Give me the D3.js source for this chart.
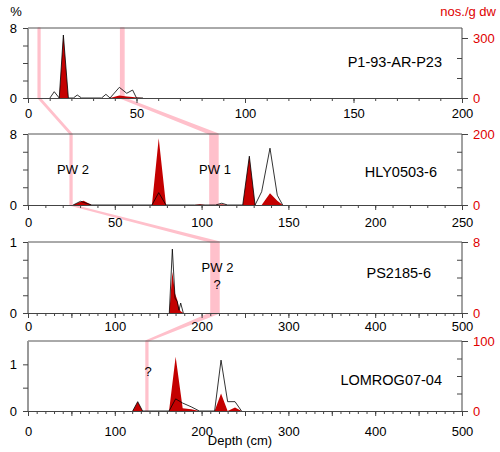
<!DOCTYPE html>
<html>
<head>
<meta charset="UTF-8">
<script src="https://d3js.org/d3.v7.min.js"></script>
<style>
  body { margin: 0; background: #fff; }
  svg text { font-family: "Liberation Sans", Arial, sans-serif; }
  .axis text { font-size: 13px; fill: #000; }
  .axis line { stroke: #444; }
</style>
</head>
<body>
<svg id="chart" width="500" height="452"></svg>
<script>
// cores, top to bottom
const cores = ["P1-93-AR-P23", "HLY0503-6", "PS2185-6", "LOMROG07-04"];

// depth (cm), abundance (%) and concentration (nos./g dw) per core
const depthP1 = [10.1, 12.1, 14.4, 16.3, 18.6, 20.9, 22.7, 24.7, 33.9, 35.9, 37.8, 42.1, 45.5, 48.2, 50, 53];
const pctP1   = [0, 0.72, 0, 7.2, 0, 0, 0.34, 0, 0, 0.42, 0, 1.22, 0.54, 0.91, 0, 0];
const nosP1   = [0, 0, 0, 315, 0, 0, 0, 0, 0, 0, 0, 13, 8, 5, 2, 0];

const depthHLY = [26, 30.3, 32, 36.7, 71.4, 75.3, 79.5, 96, 99, 102, 108, 111.6, 115, 123.7, 127.5, 130.8, 134.6, 139.4, 143.6, 146.7];
const pctHLY   = [0, 0.42, 0.3, 0, 0, 1.39, 0, 0, 0, 0, 0, 0.2, 0, 0, 5.5, 0, 1.5, 6.4, 1.1, 0];
const nosHLY   = [0, 9, 12, 0, 0, 188, 0, 0, 2, 0, 0, 2, 0, 0, 138, 0, 0, 33, 12, 0];

const depthPS = [162.8, 166.3, 169.4, 172, 174, 175.9, 178.9];
const pctPS   = [0, 0.9, 0.21, 0.16, 0.04, 0.14, 0];
const nosPS   = [0, 4.65, 2.2, 1.46, 0.5, 0.2, 0];

const depthLOM = [120.6, 126.4, 132, 162.5, 170.1, 178.2, 188, 197.4, 215, 222.4, 230, 238.5, 246];
const pctLOM   = [0, 0.2, 0, 0, 0.26, 0.17, 0.09, 0, 0, 1.09, 0.2, 0.2, 0];
const nosLOM   = [0, 13.3, 0, 0, 77.6, 4, 2.5, 0, 0, 25, 0, 5, 0];

// axis extents and ticks
const depthMax = [200, 250, 500, 500];
const depthLabelStep = [50, 50, 100, 100];
const pctMax = [8, 8, 1, 1.5];
const pctTicks = [[0, 2, 4, 6, 8], [0, 2, 4, 6, 8], [0, 0.25, 0.5, 0.75, 1], [0, 0.5, 1]];
const pctLabels = [[0, 8], [0, 8], [0, 1], [0, 1]];
const nosMax = [350, 200, 8, 100];
const nosTicks = [[0, 100, 200, 300], [0, 50, 100, 150, 200], [0, 2, 4, 6, 8], [0, 25, 50, 75, 100]];
const nosLabels = [[0, 300], [0, 200], [0, 8], [0, 100]];

// pore water tie lines: depth range (cm) in each core
const tiePW2 = [[4.7, 5.5], [24.3, 25.3], [210.8, 220], [136, 138]];
const tiePW1 = [[42.7, 44.2], [104.8, 109.4]];

const series = [
    [depthP1, pctP1, nosP1],
    [depthHLY, pctHLY, nosHLY],
    [depthPS, pctPS, nosPS],
    [depthLOM, pctLOM, nosLOM]
].map(([dep, pc, no]) => dep.map((d, i) => ({ depth: d, pct: pc[i], nos: no[i] })));

// layout
const left = 28, right = 462;
const tops = [28, 134, 242, 341], bottoms = [98, 205, 313, 411];
const labelPad = [6, 8, 4, 11];
const nameX = [442, 437, 431, 442], nameY = [67, 177, 278, 385];
const red = "#e00000", fillRed = "#c40000", pink = "#ffc0cb";

const svg = d3.select("#chart");

const xs = depthMax.map(m => d3.scaleLinear().domain([0, m]).range([left, right]));
const yPct = pctMax.map((m, i) => d3.scaleLinear().domain([0, m]).range([bottoms[i], tops[i]]));
const yNos = nosMax.map((m, i) => d3.scaleLinear().domain([0, m]).range([bottoms[i], tops[i]]));

// tie bands drawn behind everything
function tiePath(tie) {
    const l = [], r = [];
    tie.forEach((rg, i) => {
        l.push([xs[i](rg[0]), tops[i]], [xs[i](rg[0]), bottoms[i]]);
        r.push([xs[i](rg[1]), tops[i]], [xs[i](rg[1]), bottoms[i]]);
    });
    return d3.line()(l.concat(r.reverse())) + "Z";
}
[tiePW2, tiePW1].forEach(t => {
    svg.append("path").attr("d", tiePath(t))
        .attr("fill", pink).attr("stroke", pink).attr("stroke-width", 1.5)
        .attr("stroke-linejoin", "round");
});

cores.forEach((name, i) => {
    const g = svg.append("g");
    const x = xs[i], yp = yPct[i], yn = yNos[i];

    g.append("path").datum(series[i])
        .attr("fill", fillRed)
        .attr("d", d3.area().x(d => x(d.depth)).y0(bottoms[i]).y1(d => yn(d.nos)));

    g.append("path").datum(series[i])
        .attr("fill", "none").attr("stroke", "#000").attr("stroke-width", 0.8)
        .attr("d", d3.line().x(d => x(d.depth)).y(d => yp(d.pct)));

    // top frame
    g.append("line").attr("x1", left).attr("x2", right)
        .attr("y1", tops[i]).attr("y2", tops[i])
        .attr("stroke", "#555").attr("stroke-width", 1);

    // depth axis: minor ticks every 10, major every 50
    g.append("g").attr("class", "axis")
        .attr("transform", `translate(0,${bottoms[i]})`)
        .call(d3.axisBottom(x).tickValues(d3.range(0, depthMax[i] + 1, 10))
            .tickSize(3).tickSizeOuter(0).tickFormat(""))
        .call(a => a.select(".domain").attr("stroke", "#444"));
    g.append("g").attr("class", "axis")
        .attr("transform", `translate(0,${bottoms[i]})`)
        .call(d3.axisBottom(x).tickValues(d3.range(0, depthMax[i] + 1, 50))
            .tickSize(5).tickSizeOuter(0).tickPadding(labelPad[i])
            .tickFormat(d => d % depthLabelStep[i] === 0 ? d : ""))
        .call(a => a.select(".domain").remove());

    // left axis (%)
    g.append("g").attr("class", "axis")
        .attr("transform", `translate(${left},0)`)
        .call(d3.axisLeft(yp).tickValues(pctTicks[i]).tickSize(5).tickSizeOuter(0)
            .tickPadding(6).tickFormat(d => pctLabels[i].includes(d) ? d : ""))
        .call(a => a.select(".domain").attr("stroke", "#999").attr("stroke-width", 2)
            .attr("d", `M0,${tops[i]}V${bottoms[i]}`));

    // right axis (nos./g dw)
    const minor = nosTicks[i].filter(v => !nosLabels[i].includes(v));
    g.append("g").attr("class", "axis")
        .attr("transform", `translate(${right},0)`)
        .call(d3.axisRight(yn).tickValues(minor).tickSize(-5).tickSizeOuter(0).tickFormat(""))
        .call(a => a.select(".domain").attr("stroke", "#444")
            .attr("d", `M0,${tops[i]}V${bottoms[i]}`));
    g.append("g").attr("class", "axis")
        .attr("transform", `translate(${right},0)`)
        .call(d3.axisRight(yn).tickValues(nosLabels[i]).tickSize(6).tickPadding(5))
        .call(a => a.select(".domain").remove())
        .call(a => a.selectAll("text").style("fill", red));

    g.append("text").attr("x", nameX[i]).attr("y", nameY[i])
        .attr("text-anchor", "end").style("font-size", "14.5px").text(name);
});

// annotations
const notes = [
    { t: "PW 2", x: 73, y: 174 },
    { t: "PW 1", x: 215, y: 174 },
    { t: "PW 2", x: 217.5, y: 272 },
    { t: "?", x: 217, y: 289 },
    { t: "?", x: 148, y: 376 }
];
svg.selectAll(".note").data(notes).enter().append("text")
    .attr("class", "note").attr("x", d => d.x).attr("y", d => d.y)
    .attr("text-anchor", "middle").style("font-size", "13px").text(d => d.t);

svg.append("text").attr("x", 16).attr("y", 16).attr("text-anchor", "middle")
    .style("font-size", "13px").text("%");
svg.append("text").attr("x", 496).attr("y", 16).attr("text-anchor", "end")
    .style("font-size", "13px").style("fill", red).text("nos./g dw");
svg.append("text").attr("x", 240).attr("y", 445).attr("text-anchor", "middle")
    .style("font-size", "13px").text("Depth (cm)");
</script>
</body>
</html>
